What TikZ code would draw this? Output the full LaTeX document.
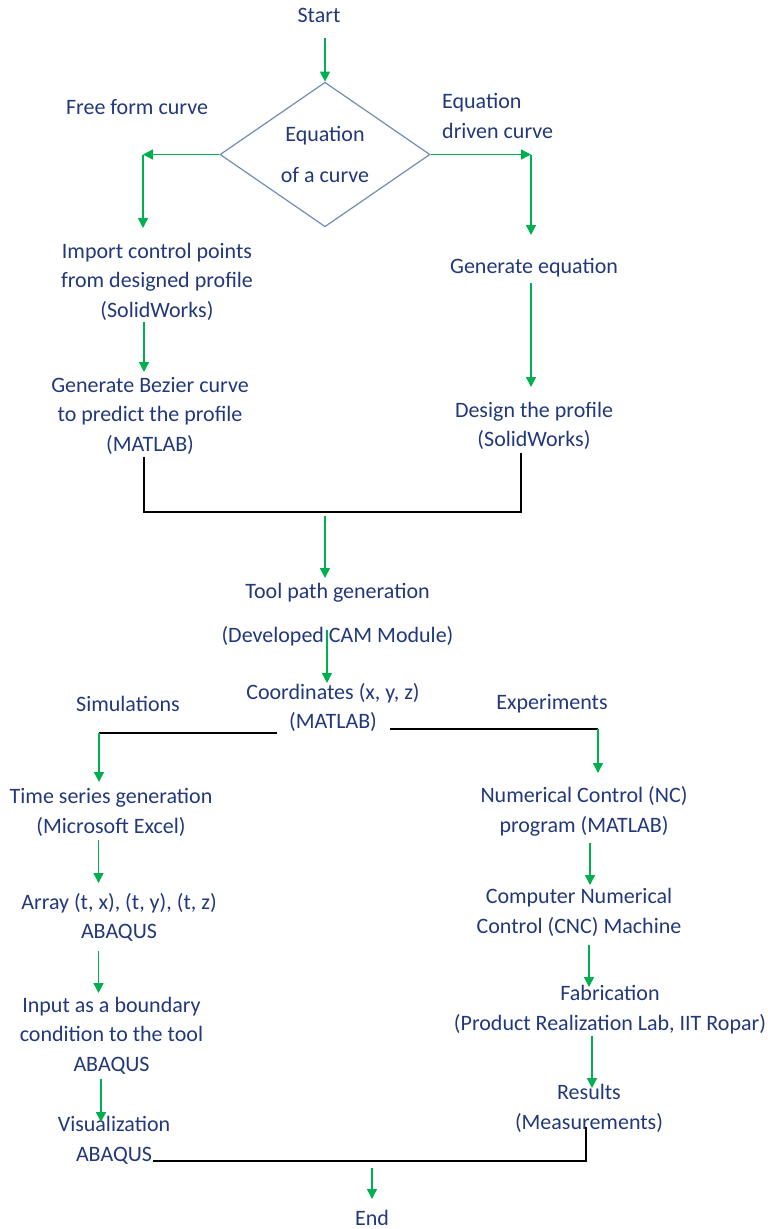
\documentclass[tikz,border=0pt]{standalone}
\usepackage{fontspec}
\setmainfont{Carlito}
\usetikzlibrary{shapes.geometric,arrows.meta}
\definecolor{navy}{HTML}{22387A}
\definecolor{gr}{HTML}{00B050}
\definecolor{dia}{HTML}{6E8DB5}
\tikzset{
  txt/.style={text=navy, align=center, inner sep=0pt, font=\fontsize{22}{29.5}\selectfont},
  garrow/.style={draw=gr, line width=1.4pt, -{Triangle[length=10pt,width=10pt]}},
  bline/.style={draw=black, line width=1.3pt},
}
\begin{document}
\begin{tikzpicture}[x=1pt,y=-1pt]
\path[use as bounding box] (0,0) rectangle (768,1229);

% nodes
\node[txt] (start) at (319,15) {Start};
\node[draw=dia, line width=1.2pt, shape=diamond, minimum width=210pt, minimum height=133pt, inner sep=0pt, txt] (dec) at (325,154.5) {Equation\\[11.5pt]of a curve};
\node[txt] (free) at (137,107) {Free form curve};
\node[txt, align=left, anchor=west] (eqd) at (442,116) {Equation\\driven curve};
\node[txt] (imp) at (157,281.5) {Import control points\\from designed profile\\(SolidWorks)};
\node[txt] (geneq) at (534,268) {Generate equation};
\node[txt] (bez) at (150,415.5) {Generate Bezier curve\\to predict the profile\\(MATLAB)};
\node[txt] (design) at (534,426) {Design the profile\\(SolidWorks)};
\node[txt] (tool) at (337.5,615) {Tool path generation\\[14.5pt](Developed CAM Module)};
\node[txt] (coord) at (333,707.5) {Coordinates (x, y, z)\\(MATLAB)};
\node[txt] (sim) at (128,704) {Simulations};
\node[txt] (exp) at (552,704) {Experiments};
\node[txt] (ts) at (111,812.5) {Time series generation\\(Microsoft Excel)};
\node[txt] (nc) at (584,811.5) {Numerical Control (NC)\\program (MATLAB)};
\node[txt] (arr) at (119,917.5) {Array (t, x), (t, y), (t, z)\\ABAQUS};
\node[txt] (inp) at (111.5,1035.5) {Input as a boundary\\condition to the tool\\ABAQUS};
\node[txt] (vis) at (114,1140.5) {Visualization\\ABAQUS};
\node[txt] (cnc) at (579,912.5) {Computer Numerical\\Control (CNC) Machine};
\node[txt] (fab) at (610,1009.5) {Fabrication\\(Product Realization Lab, IIT Ropar)};
\node[txt] (res) at (589,1108.5) {Results\\(Measurements)};
\node[txt] (end) at (372,1218) {End};

% coordinates
\coordinate (s0) at (325,38);
\coordinate (fl) at (143,154.5);
\coordinate (fl2) at (143,228);
\coordinate (fr) at (531,154.5);
\coordinate (fr2) at (531,235);
\coordinate (ge1) at (531,283);
\coordinate (ge2) at (531,387);
\coordinate (im1) at (144,322);
\coordinate (im2) at (144,372);
\coordinate (bz1) at (144,457);
\coordinate (ds1) at (521,453);
\coordinate (j1) at (325,512);
\coordinate (j1b) at (325,516);
\coordinate (j2) at (325,578);
\coordinate (t1) at (327,630);
\coordinate (t2) at (327,683);
\coordinate (cl) at (277,733);
\coordinate (cl2) at (99,733);
\coordinate (cl3) at (99,782);
\coordinate (cr) at (390,729);
\coordinate (cr2) at (598,729);
\coordinate (cr3) at (598,773);
\coordinate (a1) at (98.5,840);
\coordinate (a2) at (98.5,883);
\coordinate (b1) at (98.5,951);
\coordinate (b2) at (98.5,993);
\coordinate (c1) at (101,1079);
\coordinate (c2) at (101,1122);
\coordinate (d1) at (590,843);
\coordinate (d2) at (590,885);
\coordinate (e1) at (589,945);
\coordinate (e2) at (589,987);
\coordinate (f1) at (592,1036);
\coordinate (f2) at (592,1088);
\coordinate (v1) at (153,1161);
\coordinate (r1) at (586,1127);
\coordinate (n1) at (372,1168);
\coordinate (n2) at (372,1199);

% connectors
\draw[garrow] (s0) -- (dec.north);
\draw[garrow] (dec.west) -- (fl);
\draw[garrow] (fl) -- (fl2);
\draw[garrow] (dec.east) -- (fr);
\draw[garrow] (fr) -- (fr2);
\draw[garrow] (im1) -- (im2);
\draw[garrow] (ge1) -- (ge2);
\draw[bline] (bz1) |- (j1) -| (ds1);
\draw[garrow] (j1b) -- (j2);
\draw[garrow] (t1) -- (t2);
\draw[bline] (cl) -- (cl2);
\draw[garrow] (cl2) -- (cl3);
\draw[bline] (cr) -- (cr2);
\draw[garrow] (cr2) -- (cr3);
\draw[garrow] (a1) -- (a2);
\draw[garrow] (b1) -- (b2);
\draw[garrow] (c1) -- (c2);
\draw[garrow] (d1) -- (d2);
\draw[garrow] (e1) -- (e2);
\draw[garrow] (f1) -- (f2);
\draw[bline] (v1) -| (r1);
\draw[garrow] (n1) -- (n2);
\end{tikzpicture}
\end{document}
